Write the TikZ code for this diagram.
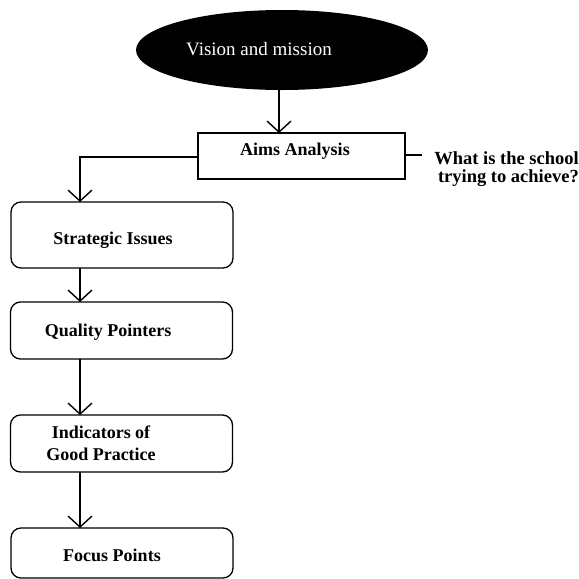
\documentclass[tikz,border=0pt]{standalone}
\usepackage{fontspec}
\setmainfont{Liberation Serif}
\usetikzlibrary{arrows.meta,shapes.geometric}
\begin{document}
\begin{tikzpicture}[x=1pt,y=-1pt,
  flow/.style={line width=1.4pt,-{Straight Barb[length=11pt,width=24pt,line width=1.4pt]}},
  link/.style={line width=1.4pt},
  stagebox/.style={draw,line width=1.3pt,rounded corners=10pt,minimum width=222pt,inner sep=0pt},
  lbl/.style={font=\fontsize{18}{22}\selectfont\bfseries,align=center}]
  \useasboundingbox (0,0) rectangle (579,579);

  % top ellipse
  \node[ellipse,fill=black,minimum width=292pt,minimum height=80pt,inner sep=0pt] (vision) at (282,50) {};
  \node[text=white,font=\fontsize{19}{22}\selectfont] (visiont) at (259,49) {Vision and mission};

  % aims box
  \node[draw,line width=1.3pt,minimum width=207pt,minimum height=46pt,inner sep=0pt] (aims) at (301.5,156) {};
  \node[lbl] (aimst) at (295,151) {Aims Analysis};

  % stages
  \node[stagebox,minimum height=66pt] (strat) at (122,235) {};
  \node[lbl] (stratt) at (113,240) {Strategic Issues};
  \node[stagebox,minimum height=57pt] (qual) at (121.5,330.5) {};
  \node[lbl] (qualt) at (108,332) {Quality Pointers};
  \node[stagebox,minimum height=57pt] (ind) at (121.5,443.5) {};
  \node[lbl] (indt) at (101,443) {Indicators of\\Good Practice};
  \node[stagebox,minimum height=50pt] (focus) at (122,553) {};
  \node[lbl] (focust) at (112,555) {Focus Points};

  % side question
  \coordinate (qend) at (422,155);
  \node[lbl,align=right,anchor=east,inner sep=0pt,font=\fontsize{18.5}{18}\selectfont\bfseries] (question) at (579,169) {What is the school\\trying to achieve?};

  % connectors
  \draw[flow] (279,90) -- (279,133);
  \coordinate (corner) at (80,157);
  \draw[flow] (aims.west |- corner) -- (corner) -- (80,202);
  \draw[flow] (80,268) -- (80,302);
  \draw[flow] (80,359) -- (80,415);
  \draw[flow] (80,472) -- (80,528);
  \draw[link] (aims.east |- qend) -- (qend);
\end{tikzpicture}
\end{document}
